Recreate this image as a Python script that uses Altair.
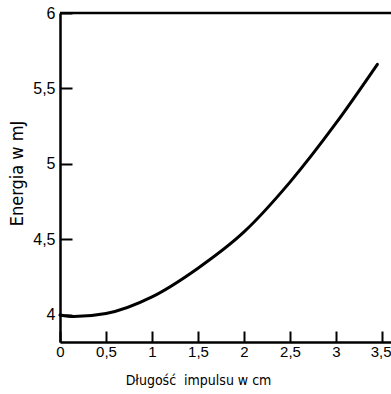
import altair as alt
import pandas as pd

# curve values
length_cm = [0.0, 0.15, 0.5, 1.0, 1.5, 2.0, 2.5, 3.0, 3.45]
energy_mj = [4.0, 3.99, 4.01, 4.12, 4.31, 4.55, 4.88, 5.27, 5.66]

x_labels = [0, 0.5, 1, 1.5, 2, 2.5, 3, 3.5]
y_labels = [4, 4.5, 5, 5.5, 6]

W, H = 331, 329
LABEL_FONT = "Liberation Sans"
TITLE_FONT = "Liberation Sans Narrow, DejaVu Sans Condensed, Liberation Sans"

df = pd.DataFrame({"x": length_cm, "y": energy_mj})
top = pd.DataFrame({"y": [6.0]})

xs = alt.Scale(domain=[0.0, 3.598], nice=False, zero=False)
ys = alt.Scale(domain=[3.821, 6.0], nice=False, zero=False)

lab = "replace(toString(datum.value), '.', ',')"

curve = alt.Chart(df).mark_line(color="black", strokeWidth=3, interpolate="monotone",
                                strokeCap="round").encode(
    x=alt.X("x:Q", scale=xs, axis=alt.Axis(
        title="Długość\u00a0 impulsu w cm", values=x_labels, labelExpr=lab,
        labelAlign={"expr": "datum.value >= 3.5 ? 'right' : 'center'"},
        labelOffset={"expr": "datum.value >= 3.5 ? 9 : 0"},
        tickSize={"expr": "-11"}, tickWidth=2, tickColor="black",
        domainColor="black", domainWidth=2.5, grid=False, labelColor="black",
        labelFont=LABEL_FONT, labelFontSize=15, labelPadding=13,
        titleFont=TITLE_FONT, titleFontSize=14, titleFontWeight="normal", titleColor="black",
        titleX=138, titleY=38, titleAlign="center", titleBaseline="middle")),
    y=alt.Y("y:Q", scale=ys, axis=alt.Axis(
        title="Energia w mJ", values=y_labels, labelExpr=lab,
        tickSize={"expr": "-12"}, tickWidth=2, tickColor="black",
        domainColor="black", domainWidth=2.5, grid=False, labelColor="black",
        labelFont=LABEL_FONT, labelFontSize=16, labelPadding=17,
        titleFont=TITLE_FONT, titleFontSize=18, titleFontWeight="normal", titleColor="black",
        titleX=-43, titleY=160, titleAlign="center", titleBaseline="middle")),
)

topline = alt.Chart(top).mark_rule(color="black", strokeWidth=2.5).encode(
    y=alt.Y("y:Q", scale=ys), x=alt.value(0), x2=alt.value(W))

chart = alt.layer(curve, topline).properties(
    width=W, height=H,
    padding={"left": 60, "top": 13, "right": 0, "bottom": 52},
    autosize=alt.AutoSizeParams(type="none"),
    background="white",
).configure_view(stroke=None)

chart.save("out.html", embed_options={"renderer": "svg", "actions": False})
